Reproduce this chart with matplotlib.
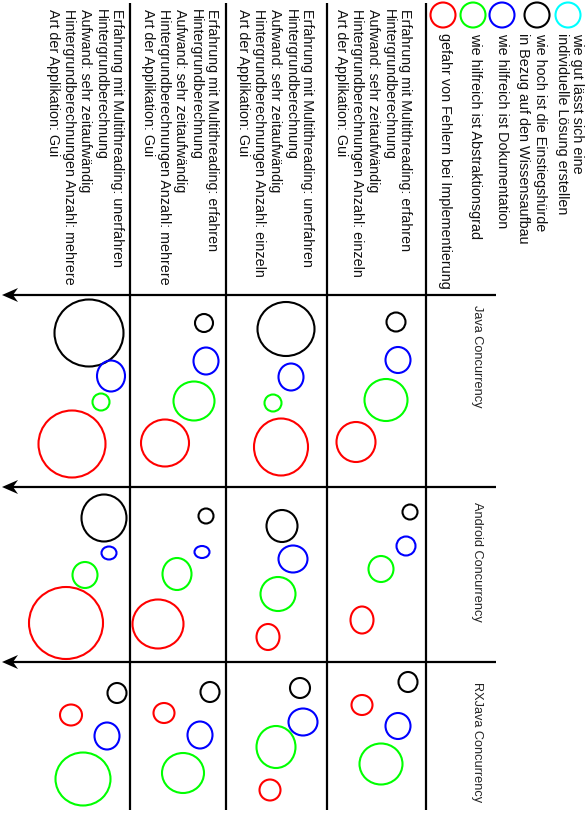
import matplotlib.pyplot as plt
from matplotlib.patches import Ellipse, Polygon

# image sized canvas, everything in pixel units (y grows downwards)
W, H = 586, 813

rows = ["Java Concurrency", "Android Concurrency", "RXJava Concurrency"]
row_label_y = [305, 502, 682]
row_lines = [295, 487, 662]          # horizontal separators (arrows)
col_lines = [130, 226, 327, 426]     # vertical separators

# scenario text per column (right to left)
scenarios = [
    ["Erfahrung mit Multithreading: erfahren", "Hintergrundberechnung",
     "Aufwand: sehr zeitaufwändig", "Hintergrundberechnungen Anzahl: einzeln",
     "Art der Applikation: Gui"],
    ["Erfahrung mit Multithreading: unerfahren", "Hintergrundberechnung",
     "Aufwand: sehr zeitaufwändig", "Hintergrundberechnungen Anzahl: einzeln",
     "Art der Applikation: Gui"],
    ["Erfahrung mit Multithreading: erfahren", "Hintergrundberechnung",
     "Aufwand: sehr zeitaufwändig", "Hintergrundberechnungen Anzahl: mehrere",
     "Art der Applikation: Gui"],
    ["Erfahrung mit Multithreading: unerfahren", "Hintergrundberechnung",
     "Aufwand: sehr zeitaufwändig", "Hintergrundberechnungen Anzahl: mehrere",
     "Art der Applikation: Gui"],
]
scenario_x = [405, 307, 212, 117]

legend_colors = ["#00ffff", "#000000", "#0000ff", "#00ff00", "#ff0000"]
legend_x = [568, 537, 502, 473, 443]
legend_text = [
    ["wie gut lässt sich eine", "individuelle Lösung erstellen"],
    ["wie hoch ist die Einstiegshürde", "in Bezug auf den Wissensaufbau"],
    ["wie hilfreich ist Dokumentation"],
    ["wie hilfreich ist Abstraktionsgrad"],
    ["gefahr von Fehlern bei Implementierung"],
]
legend_text_x = [[577, 562], [540, 523], [502], [475], [445]]

# circles: (x, y, width, height), order = row by row, columns right to left
black = [(396, 322, 19, 19), (286, 329, 57, 54), (204, 323, 18, 18), (89, 333, 69, 67),
         (410, 512, 15, 15), (282, 526, 31, 32), (206, 516, 15, 15), (104, 518, 45, 47),
         (408, 682, 19, 20), (300, 688, 20, 20), (210, 692, 19, 20), (117, 693, 19, 20)]
blue = [(398, 360, 25, 26), (291, 377, 25, 27), (206, 361, 25, 27), (111, 376, 28, 31),
        (406, 546, 19, 19), (293, 559, 29, 27), (202, 552, 15, 12), (109, 553, 15, 13),
        (398, 726, 25, 26), (303, 722, 29, 27), (200, 735, 25, 27), (107, 736, 25, 27)]
green = [(386, 400, 43, 42), (273, 403, 17, 17), (194, 401, 41, 39), (101, 402, 17, 17),
         (381, 569, 25, 26), (278, 594, 35, 34), (177, 574, 29, 32), (85, 575, 25, 26),
         (381, 764, 43, 41), (276, 747, 39, 42), (183, 773, 42, 40), (83, 779, 55, 53)]
red = [(356, 442, 39, 40), (281, 447, 54, 57), (165, 443, 48, 47), (72, 444, 67, 67),
       (362, 620, 23, 27), (268, 637, 23, 26), (158, 624, 51, 49), (66, 623, 74, 72),
       (362, 705, 21, 20), (270, 790, 21, 21), (164, 713, 21, 20), (71, 715, 22, 21)]

plt.rcParams['font.family'] = ['Liberation Sans', 'DejaVu Sans']
fs = 10.3

fig = plt.figure(figsize=(W / 100, H / 100), dpi=100)
ax = fig.add_axes([0, 0, 1, 1])
ax.set_xlim(0, W)
ax.set_ylim(H, 0)
ax.set_aspect('equal')
ax.axis('off')

# grid
for x in col_lines:
    ax.plot([x, x], [3, 810], color='black', lw=1.6, solid_capstyle='butt')
for y in row_lines:
    ax.plot([12, 496], [y, y], color='black', lw=1.6, solid_capstyle='butt')
    tip = 2
    ax.add_patch(Polygon([(tip, y), (tip + 16, y - 7), (tip + 11, y), (tip + 16, y + 7)],
                         closed=True, color='black', lw=0))

# row labels
for y, name in zip(row_label_y, rows):
    ax.text(477, y, name, rotation=-90, rotation_mode='anchor',
            ha='left', va='center', fontsize=9.2, color='#222222')

# scenario headers
for x0, lines in zip(scenario_x, scenarios):
    for i, s in enumerate(lines):
        ax.text(x0 - 16 * i, 9, s, rotation=-90, rotation_mode='anchor',
                ha='left', va='center', fontsize=fs, color='#111111')

# legend
for x0, c, lines, xs in zip(legend_x, legend_colors, legend_text, legend_text_x):
    ax.add_patch(Ellipse((x0, 15), 25, 25, fill=False, edgecolor=c, lw=1.5))
    for xt, s in zip(xs, lines):
        ax.text(xt, 33, s, rotation=-90, rotation_mode='anchor',
                ha='left', va='center', fontsize=10.4, color='#111111')

# circles
for circles, c in [(black, 'black'), (blue, '#0000ff'), (green, '#00ff00'), (red, '#ff0000')]:
    for x, y, w, h in circles:
        ax.add_patch(Ellipse((x, y), w, h, fill=False, edgecolor=c, lw=1.5))

fig.savefig('out.png', dpi=100)
